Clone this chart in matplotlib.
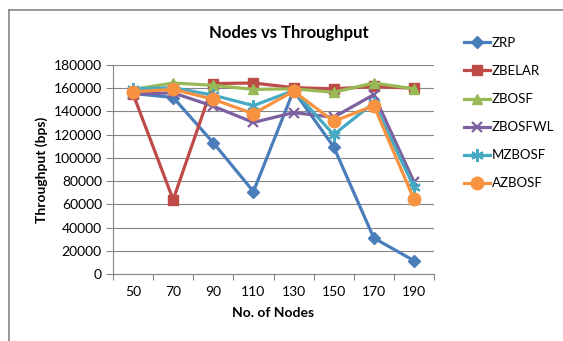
import matplotlib.pyplot as plt
from matplotlib.lines import Line2D

plt.rcParams['font.family'] = ['Lato', 'DejaVu Sans']

nodes = [50, 70, 90, 110, 130, 150, 170, 190]

zrp = [155500, 152000, 113000, 71000, 158000, 109500, 31000, 11500]
zbelar = [155000, 64000, 164000, 164500, 160500, 159500, 161500, 160000]
zbosf = [159000, 164500, 162500, 159000, 159500, 156500, 164500, 159500]
zbosfwl = [155000, 156000, 144500, 130500, 139000, 135000, 154500, 79500]
mzbosf = [159500, 160500, 154000, 145000, 158000, 120000, 147500, 75000]
azbosf = [157000, 159000, 150500, 138000, 157500, 131500, 145000, 64500]

series = [
    ("ZRP", zrp, "#4A7EBB", "D", 6.5),
    ("ZBELAR", zbelar, "#BE4B48", "s", 7.5),
    ("ZBOSF", zbosf, "#98B954", "^", 7.5),
    ("ZBOSFWL", zbosfwl, "#7D60A0", "x", 7),
    ("MZBOSF", mzbosf, "#46AAC5", (6, 2, 0), 9),
    ("AZBOSF", azbosf, "#F69240", "o", 9),
]

fig = plt.figure(figsize=(5.63, 3.41), dpi=100)
ax = fig.add_axes([113 / 563, 67 / 341, 321 / 563, 209 / 341])

xs = list(range(len(nodes)))
for name, vals, color, marker, ms in series:
    ax.plot(xs, vals, color=color, lw=2.3, marker=marker, ms=ms,
            mew=1.6 if marker in ("x", (6, 2, 0)) else 1, mec=color, mfc=color,
            label=name, zorder=3)

ax.set_ylim(0, 180000)
ax.set_yticks(range(0, 180001, 20000))
ax.set_xlim(-0.5, len(nodes) - 0.5)
ax.set_xticks(xs)
ax.set_xticklabels([str(n) for n in nodes])
ax.set_xticks([i - 0.5 for i in range(len(nodes) + 1)], minor=True)
ax.tick_params(axis='x', which='major', length=0, pad=9, labelsize=10)
ax.tick_params(axis='x', which='minor', length=4, color='#868686', width=0.8)
ax.tick_params(axis='y', length=5, color='#868686', width=0.8, pad=3, labelsize=10)

ax.grid(axis='y', color='#868686', lw=0.8)
ax.set_axisbelow(True)
for side in ('top', 'right'):
    ax.spines[side].set_visible(False)
for side in ('left', 'bottom'):
    ax.spines[side].set_color('#868686')
    ax.spines[side].set_linewidth(0.8)

ax.set_xlabel("No. of Nodes", fontsize=10, fontweight='bold', labelpad=6)
ax.set_ylabel("Throughput (bps)", fontsize=10, fontweight='bold', labelpad=4)
fig.text(289 / 563, 1 - 33 / 341, "Nodes vs Throughput", fontsize=12,
         fontweight='bold', ha='center', va='center')

ax.legend(loc='upper left', bbox_to_anchor=(464 / 563, 1 - 37 / 341),
          bbox_transform=fig.transFigure, frameon=False, fontsize=9.5,
          handlelength=2.0, handletextpad=0.1, labelspacing=1.22,
          borderaxespad=0, borderpad=0)

# chart area border
fig.add_artist(Line2D([9 / 563, 9 / 563], [0, 1 - 10 / 341],
                      transform=fig.transFigure, color='#868686', lw=1.2))
fig.add_artist(Line2D([9 / 563, 1], [1 - 10 / 341, 1 - 10 / 341],
                      transform=fig.transFigure, color='#868686', lw=1.2))

fig.savefig("out.png", dpi=100)
